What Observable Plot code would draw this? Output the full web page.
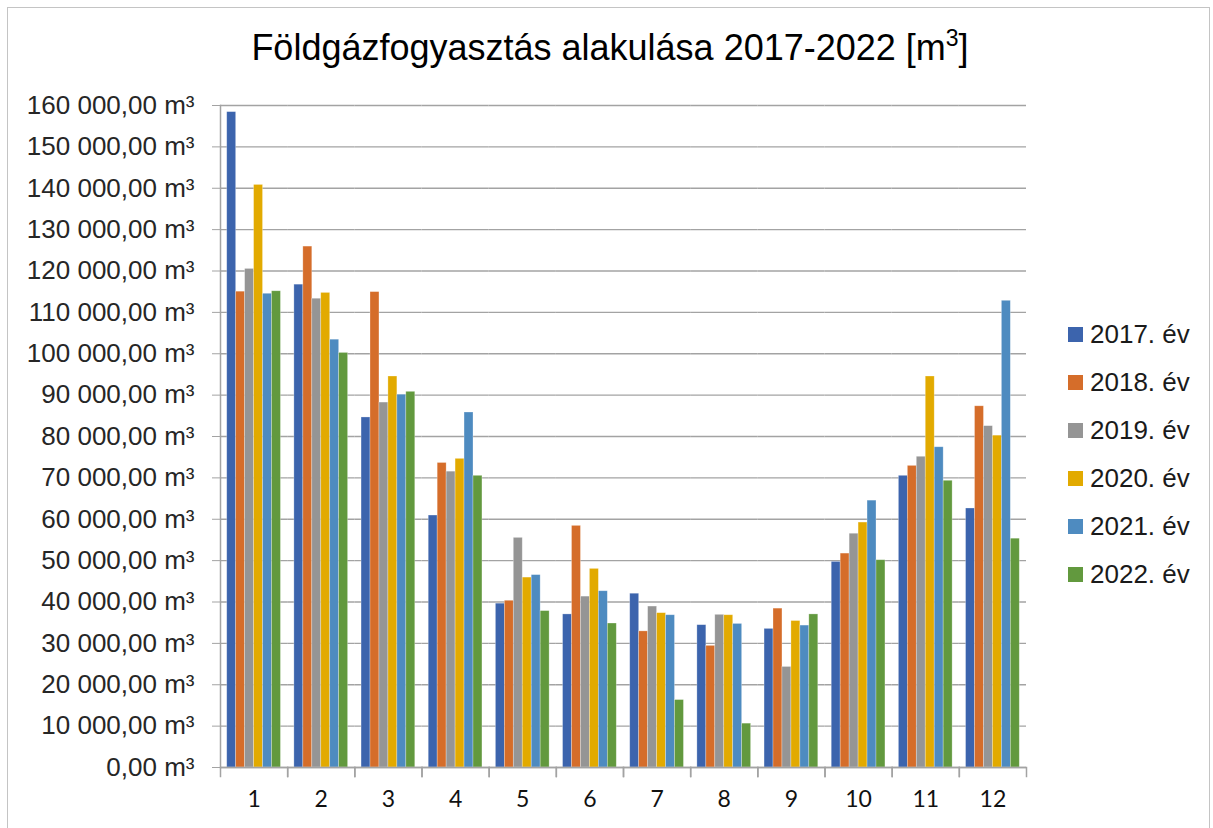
<!DOCTYPE html>
<html>
<head>
<meta charset="utf-8">
<script src="https://cdn.jsdelivr.net/npm/d3@7"></script>
<script src="https://cdn.jsdelivr.net/npm/@observablehq/plot@0.6"></script>
<style>
  html, body { margin: 0; padding: 0; background: #fff; }
  #wrap { position: relative; width: 1213px; height: 828px; overflow: hidden; background: #fff; font-family: "Liberation Sans", Arial, sans-serif; }
  #border { position: absolute; left: 7px; top: 7px; width: 1203px; height: 840px; border: 1px solid #c4c4c4; box-sizing: border-box; }
  #title { position: absolute; left: 0; width: 1220px; top: 30px; text-align: center; font-size: 36px; line-height: 36px; color: #000; }
  #chart { position: absolute; left: 0; top: 0; }
  #legend { position: absolute; left: 1068px; top: 310px; }
  .row { display: flex; align-items: center; height: 48px; font-size: 26px; color: #1a1a1a; }
  .sw { width: 15px; height: 15px; margin-right: 7px; }
</style>
</head>
<body>
<div id="wrap">
  <div id="border"></div>
  <div id="chart"></div>
  <div id="title">Földgázfogyasztás alakulása 2017-2022 [m<sup style="font-size:23px;vertical-align:14px;line-height:0">3</sup>]</div>
  <div id="legend"></div>
</div>
<script>
const months = [1, 2, 3, 4, 5, 6, 7, 8, 9, 10, 11, 12];
const years = ["2017. év", "2018. év", "2019. év", "2020. év", "2021. év", "2022. év"];
const colors = ["#3c64ad", "#d56d2a", "#959595", "#e2aa00", "#4e8bc0", "#62993e"];
const v2017 = [158400, 116700, 84600, 60900, 39600, 37000, 42000, 34400, 33500, 49700, 70500, 62600];
const v2018 = [115000, 125900, 114900, 73600, 40300, 58400, 32900, 29400, 38400, 51700, 72900, 87300];
const v2019 = [120500, 113300, 88200, 71500, 55500, 41300, 38900, 36900, 24300, 56500, 75100, 82500];
const v2020 = [140800, 114700, 94500, 74600, 45900, 48000, 37300, 36800, 35400, 59200, 94500, 80200];
const v2021 = [114500, 103400, 90100, 85800, 46500, 42600, 36800, 34700, 34300, 64500, 77400, 112800];
const v2022 = [115100, 100200, 90800, 70500, 37800, 34800, 16300, 10600, 37000, 50100, 69300, 55300];
const yTicks = [0, 10000, 20000, 30000, 40000, 50000, 60000, 70000, 80000, 90000, 100000, 110000, 120000, 130000, 140000, 150000, 160000];

const series = [v2017, v2018, v2019, v2020, v2021, v2022];
const data = [];
months.forEach((m, i) => years.forEach((y, j) => data.push({month: m, year: y, value: series[j][i]})));

const fmt = v => d3.format(",.2f")(v).replace(/,/g, " ").replace(".", ",") + " m³";

const W = 1040, H = 828, MT = 105, MB = 61, ML = 220, MR = 14;
const plotH = H - MT - MB;
const gridColor = "#a3a3a3";

const chart = Plot.plot({
  width: W, height: H,
  marginTop: MT, marginBottom: MB, marginLeft: ML, marginRight: MR,
  style: {background: "transparent", overflow: "visible"},
  fx: {domain: months, padding: 0, round: false, label: null, axis: null},
  x: {domain: years, paddingInner: 0, paddingOuter: 0.75, round: false, axis: null},
  y: {domain: [0, 160000], label: null},
  color: {domain: years, range: colors},
  marks: [
    Plot.gridY(yTicks, {stroke: gridColor, strokeOpacity: 1, strokeWidth: 1.3}),
    Plot.axisY(yTicks, {tickSize: 8, tickPadding: 18, tickFormat: fmt, stroke: gridColor, strokeOpacity: 1, fontSize: 26, fill: "#262626", fontFamily: "Liberation Sans, Arial, sans-serif", label: null}),
    Plot.axisFx({anchor: "bottom", tickSize: 0, tickPadding: 23, fontSize: 23, fill: "#111", fontFamily: "Lato, sans-serif", label: null}),
    Plot.barY(data, {fx: "month", x: "year", y: "value", fill: "year", stroke: "#fff", strokeOpacity: 0.4, strokeWidth: 0.7}),
    Plot.ruleY([0], {stroke: gridColor, strokeWidth: 1.5}),
    Plot.frame({anchor: "left", facetAnchor: "left", stroke: gridColor, strokeWidth: 1.5}),
    Plot.frame({anchor: "left", stroke: gridColor, strokeWidth: 1.5, insetTop: plotH, insetBottom: -9}),
    Plot.frame({anchor: "right", stroke: gridColor, strokeWidth: 1.5, insetTop: plotH, insetBottom: -9})
  ]
});
document.getElementById("chart").appendChild(chart);

const legend = document.getElementById("legend");
years.forEach((y, i) => {
  const row = document.createElement("div");
  row.className = "row";
  const sw = document.createElement("div");
  sw.className = "sw";
  sw.style.background = colors[i];
  const t = document.createElement("span");
  t.textContent = y;
  row.appendChild(sw);
  row.appendChild(t);
  legend.appendChild(row);
});
</script>
</body>
</html>
